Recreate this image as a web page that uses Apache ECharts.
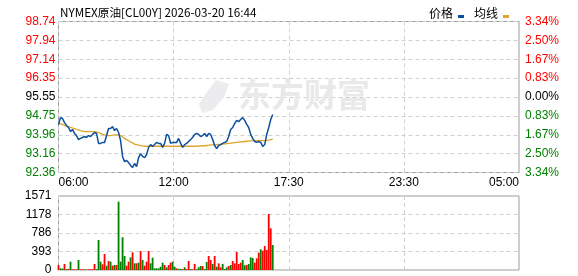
<!DOCTYPE html>
<html><head><meta charset="utf-8">
<script src="https://cdn.jsdelivr.net/npm/echarts@6/dist/echarts.min.js"></script>
<style>html,body{margin:0;padding:0;background:#fff}#c{width:578px;height:276px}</style>
</head><body><div id="c"></div>
<script>
// ---- data ----
const titleText = 'NYMEX原油[CL00Y] 2026-03-20 16:44';
const xLabels = ['06:00', '12:00', '17:30', '23:30', '05:00'];
const priceTicks = ['92.36', '93.16', '93.96', '94.75', '95.55', '96.35', '97.14', '97.94', '98.74'];
const pctTicks = ['3.34%', '2.50%', '1.67%', '0.83%', '0.00%', '0.83%', '1.67%', '2.50%', '3.34%'];
const volTicks = ['0', '393', '786', '1178', '1571'];
const sessionMinutes = 1380;   // 06:00 -> 05:00
const sampleMinutes = 6;       // one reading every 6 minutes from 06:00
const priceMin = 92.36, priceMax = 98.74, prevClose = 95.55, volMax = 1571;

const price = [
  94.39, 94.68, 94.64, 94.47, 94.35, 94.26, 94.09, 94.18, 94.01, 93.92,
  93.75, 93.80, 93.84, 93.88, 93.84, 93.92, 93.88, 93.97, 94.05, 94.01,
  93.59, 93.59, 93.63, 93.63, 93.92, 94.22, 94.22, 94.30, 94.13, 94.22,
  94.05, 93.71, 93.04, 92.82, 92.87, 92.78, 92.66, 92.57, 92.74, 92.61,
  92.99, 93.16, 93.04, 92.99, 93.12, 93.42, 93.54, 93.46, 93.54, 93.63,
  93.59, 93.59, 93.42, 93.59, 93.97, 93.92, 93.59, 93.63, 93.63, 93.63,
  93.80, 93.59, 93.42, 93.54, 93.59, 93.67, 93.75, 93.84, 93.97, 94.01,
  93.97, 93.88, 93.92, 94.01, 93.88, 94.01, 93.97, 93.75, 93.50, 93.37,
  93.50, 93.54, 93.59, 93.63, 93.67, 93.88, 94.18, 94.26, 94.43, 94.56,
  94.51, 94.60, 94.68, 94.56, 94.39, 94.26, 93.97, 93.80, 93.67, 93.63,
  93.67, 93.63, 93.46, 93.54, 93.97, 94.26, 94.60, 94.81
];
const avgPrice = [
  94.43, 94.41, 94.39, 94.35, 94.32, 94.30, 94.27, 94.24, 94.21, 94.18,
  94.16, 94.13, 94.11, 94.09, 94.09, 94.09, 94.09, 94.09, 94.09, 94.07,
  94.05, 94.01, 93.97, 93.95, 93.94, 93.92, 93.92, 93.94, 93.95, 93.95,
  93.95, 93.92, 93.86, 93.80, 93.75, 93.71, 93.65, 93.61, 93.56, 93.54,
  93.52, 93.50, 93.48, 93.47, 93.47, 93.47, 93.47, 93.47, 93.47, 93.47,
  93.47, 93.47, 93.47, 93.47, 93.47, 93.47, 93.47, 93.47, 93.47, 93.47,
  93.47, 93.47, 93.47, 93.47, 93.47, 93.47, 93.47, 93.47, 93.47, 93.47,
  93.48, 93.48, 93.49, 93.49, 93.50, 93.51, 93.53, 93.53, 93.54, 93.54,
  93.55, 93.55, 93.56, 93.57, 93.58, 93.59, 93.60, 93.61, 93.62, 93.63,
  93.64, 93.65, 93.66, 93.67, 93.68, 93.69, 93.70, 93.71, 93.71, 93.71,
  93.71, 93.71, 93.71, 93.71, 93.72, 93.73, 93.75, 93.77
];
const volume = [
  106, 35, 30, 127, 20, 25, 177, 15, 15, 15,
  212, 15, 15, 15, 10, 15, 15, 15, 127, 20,
  637, 177, 120, 340, 92, 191, 177, 92, 106, 106,
  1451, 177, 694, 297, 92, 177, 269, 375, 142, 142,
  156, 403, 212, 92, 177, 403, 142, 262, 35, 35,
  35, 70, 156, 106, 57, 106, 156, 177, 70, 35,
  25, 25, 20, 57, 20, 191, 20, 15, 130, 15,
  57, 85, 85, 20, 170, 297, 212, 127, 297, 70,
  142, 57, 127, 20, 57, 85, 106, 191, 142, 382,
  127, 156, 212, 99, 106, 127, 269, 255, 156, 248,
  368, 439, 411, 510, 425, 1189, 885, 531
];
// 1 = up (red), 0 = down (green)
const volUp = [
  1, 0, 0, 1, 0, 1, 0, 1, 1, 1,
  0, 1, 1, 0, 1, 1, 1, 1, 1, 0,
  0, 0, 1, 1, 0, 1, 0, 1, 0, 1,
  0, 0, 0, 0, 1, 1, 0, 1, 0, 1,
  0, 1, 0, 1, 1, 1, 0, 0, 0, 0,
  0, 0, 0, 1, 0, 1, 1, 0, 0, 1,
  0, 0, 1, 0, 1, 1, 0, 1, 1, 0,
  0, 0, 1, 0, 0, 1, 1, 0, 1, 0,
  1, 1, 0, 0, 0, 1, 0, 1, 1, 1,
  1, 1, 0, 0, 1, 0, 0, 0, 1, 1,
  1, 0, 1, 1, 1, 1, 1, 0
];

// ---- build ----
const RED = '#ff0000', GREEN = '#008000', BLACK = '#000000';
const priceSeries = price.map((v, i) => [i * sampleMinutes, v]);
const avgSeries = avgPrice.map((v, i) => [i * sampleMinutes, v]);
const volSeries = volume.map((v, i) => ({
  value: [i * sampleMinutes, v],
  itemStyle: { color: volUp[i] ? RED : GREEN }
}));
const mid = (priceTicks.length - 1) / 2;
const sideColor = (v) => (v > mid ? RED : (v < mid ? GREEN : BLACK));
const FONT = 'Liberation Sans, Arial, sans-serif';
const dash = { show: true, lineStyle: { color: '#d0d0d0', type: [4, 3], width: 1 } };

const chart = echarts.init(document.getElementById('c'), null, { renderer: 'canvas' });
chart.setOption({
  animation: false,
  backgroundColor: '#fff',
  title: {
    text: titleText, left: 55, top: 2,
    textStyle: { fontSize: 11.7, fontWeight: 'normal', color: '#000', fontFamily: 'Noto Sans CJK SC' }
  },
  legend: {
    data: ['价格', '均线'], right: 64, top: 2, align: 'right',
    itemWidth: 6, itemHeight: 10, itemGap: 10,
    icon: 'path://M0,0Z M0,7 L6,7 L6,10 L0,10 Z',
    textStyle: { fontSize: 12, color: '#000', fontFamily: 'Noto Sans CJK SC', padding: [0, 0, 0, 0] }
  },
  graphic: [
    {
      type: 'polygon', z: 1, silent: true,
      shape: { points: [[216, 80], [229, 84], [224, 97], [213, 110], [202, 113], [199, 104], [207, 92]] },
      style: { fill: '#ececef' }
    },
    {
      type: 'text', left: 238, top: 78, z: 1, silent: true,
      style: { text: '东方财富', font: 'bold 33px "Noto Sans CJK SC"', fill: '#e9e9ec' }
    }
  ],
  grid: [
    { left: 58.5, width: 460.5, top: 21.5, height: 151, show: true, borderColor: '#999', borderWidth: 1, backgroundColor: 'transparent' },
    { left: 58.5, width: 460.5, top: 196, height: 74, show: true, borderColor: '#999', borderWidth: 1, backgroundColor: 'transparent' }
  ],
  xAxis: [
    {
      type: 'value', gridIndex: 0, min: 0, max: sessionMinutes, interval: sessionMinutes / 4,
      axisLine: { show: false }, axisTick: { show: false }, splitLine: dash,
      axisLabel: {
        margin: 4, fontSize: 12, color: '#000', fontFamily: FONT,
        alignMinLabel: 'left', alignMaxLabel: 'right',
        formatter: (v) => xLabels[Math.round(v / (sessionMinutes / 4))]
      }
    },
    {
      type: 'value', gridIndex: 1, min: 0, max: sessionMinutes, interval: sessionMinutes / 4,
      axisLine: { show: false }, axisTick: { show: false }, splitLine: dash, axisLabel: { show: false }
    }
  ],
  yAxis: [
    { type: 'value', gridIndex: 0, min: priceMin, max: priceMax, show: false, splitLine: { show: false } },
    {
      type: 'value', gridIndex: 0, min: 0, max: priceTicks.length - 1, interval: 1, position: 'left',
      axisLine: { show: false }, axisTick: { show: false }, splitLine: dash,
      axisLabel: {
        margin: 3, fontSize: 12, fontFamily: FONT,
        formatter: (v) => priceTicks[Math.round(v)],
        color: (v) => sideColor(Math.round(v))
      }
    },
    {
      type: 'value', gridIndex: 0, min: 0, max: pctTicks.length - 1, interval: 1, position: 'right',
      axisLine: { show: false }, axisTick: { show: false }, splitLine: { show: false },
      axisLabel: {
        margin: 6, fontSize: 12, fontFamily: FONT,
        formatter: (v) => pctTicks[Math.round(v)],
        color: (v) => sideColor(Math.round(v))
      }
    },
    { type: 'value', gridIndex: 1, min: 0, max: volMax, show: false, splitLine: { show: false } },
    {
      type: 'value', gridIndex: 1, min: 0, max: volTicks.length - 1, interval: 1, position: 'left',
      axisLine: { show: false }, axisTick: { show: false }, splitLine: dash,
      axisLabel: {
        margin: 7, fontSize: 12, fontFamily: FONT, color: '#000',
        formatter: (v) => volTicks[Math.round(v)]
      }
    }
  ],
  series: [
    {
      name: '均线', type: 'line', xAxisIndex: 0, yAxisIndex: 0, data: avgSeries,
      showSymbol: false, symbol: 'none', z: 3,
      lineStyle: { color: '#dea52a', width: 1.3 }, itemStyle: { color: '#dea52a' }
    },
    {
      name: '价格', type: 'line', xAxisIndex: 0, yAxisIndex: 0, data: priceSeries,
      showSymbol: false, symbol: 'none', z: 4,
      lineStyle: { color: '#0c4f9e', width: 1.5 }, itemStyle: { color: '#0c4f9e' }
    },
    {
      name: 'vol', type: 'bar', xAxisIndex: 1, yAxisIndex: 3, data: volSeries,
      barWidth: 1.8, z: 3
    }
  ]
});
</script></body></html>
